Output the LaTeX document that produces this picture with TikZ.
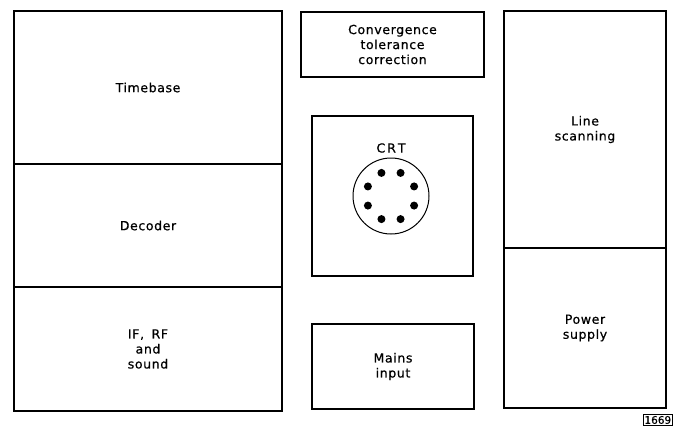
\documentclass[tikz,border=0pt]{standalone}
\usepackage{fontspec}
\usetikzlibrary{calc}
\newfontfamily\lblfont[LetterSpace=5,FakeBold=0.7]{DejaVu Sans}
\newfontfamily\numfont[FakeBold=0.7]{DejaVu Sans}
\begin{document}
\begin{tikzpicture}[x=1pt,y=-1pt,
  blk/.style={draw=black, line width=1.2pt, rectangle, inner sep=0pt, align=center,
    font=\lblfont\fontsize{12.5}{15}\selectfont},
  lbl/.style={inner sep=0pt, align=center, font=\lblfont\fontsize{12.5}{15}\selectfont},
  pin/.style={fill=black, circle, inner sep=0pt, minimum size=8pt}]
\useasboundingbox (0,0) rectangle (674,426);
% left column
\node[blk, minimum width=268pt, minimum height=153pt] (tb) at (148,87.5) {Timebase};
\node[blk, minimum width=268pt, minimum height=123pt] (dec) at (148,225.5) {Decoder};
\node[blk, minimum width=268pt, minimum height=124pt] (ifrf) at (148,349) {IF,\hspace{0.6em}RF\\and\\sound};
% middle column
\node[blk, minimum width=183pt, minimum height=65pt] (conv) at (392.5,44.5) {Convergence\\tolerance\\correction};
\node[blk, minimum width=161pt, minimum height=160pt] (crt) at (392.5,196) {};
\node[lbl] (crtl) at (391,148) {C\hspace{2pt}R\hspace{2pt}T};
\node[draw=black, line width=1pt, circle, minimum size=76pt, inner sep=0pt] (tube) at (391,196) {};
\foreach \a [count=\i] in {22.5,67.5,...,337.5} {
  \node[pin] (p\i) at ($(tube.center)+(\a:25pt)$) {};
}
\node[blk, minimum width=162pt, minimum height=85pt] (mains) at (393,366.5) {Mains\\input};
% right column
\node[blk, minimum width=162pt, minimum height=237pt] (line) at (585,129.5) {Line\\scanning};
\node[blk, minimum width=162pt, minimum height=160pt] (pwr) at (585,328) {Power\\supply};
% figure number
\node[draw=black, line width=1pt, inner xsep=1.3pt, inner ysep=1.5pt, font=\numfont\fontsize{10.5}{10.5}\selectfont, anchor=north east] (fig) at (673,414) {1669};
\end{tikzpicture}
\end{document}
